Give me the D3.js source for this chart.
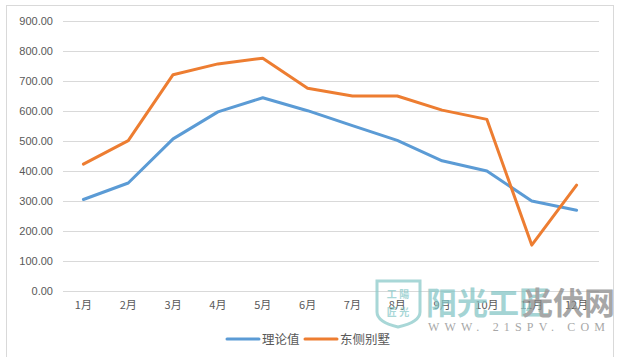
<!DOCTYPE html>
<html>
<head>
<meta charset="utf-8">
<script src="https://cdn.jsdelivr.net/npm/d3@7"></script>
<style>
  html, body { margin: 0; padding: 0; background: #fff; }
  svg { display: block; }
</style>
</head>
<body>
<svg id="chart" width="618" height="357"></svg>
<script>
const months = ["1月","2月","3月","4月","5月","6月","7月","8月","9月","10月","11月","12月"];
const theory = [305, 360, 507, 597, 644, 601, 551, 502, 434, 400, 300, 269];
const eastVilla = [423, 501, 721, 757, 776, 676, 650, 650, 603, 572, 153, 353];
const seriesNames = ["理论值", "东侧别墅"];
const yTicks = [0, 100, 200, 300, 400, 500, 600, 700, 800, 900];
const colors = ["#5B9BD5", "#ED7D31"];

const svg = d3.select("#chart");
const W = 618, H = 357;
const margin = { left: 61, right: 19, top: 21, bottom: 66 };

// chart border
svg.append("rect")
  .attr("x", 6.5).attr("y", 5.5)
  .attr("width", 607).attr("height", 360)
  .attr("fill", "#fff").attr("stroke", "#D9D9D9").attr("stroke-width", 1);

const x = d3.scaleBand().domain(months).range([margin.left, W - margin.right]);
const y = d3.scaleLinear().domain([0, 900]).range([H - margin.bottom, margin.top]);

// gridlines
svg.append("g")
  .selectAll("line")
  .data(yTicks)
  .join("line")
  .attr("x1", 63).attr("x2", W - margin.right)
  .attr("y1", d => Math.round(y(d)) + 0.5)
  .attr("y2", d => Math.round(y(d)) + 0.5)
  .attr("stroke", "#D9D9D9").attr("stroke-width", 1);

// y axis labels
const yAxis = d3.axisLeft(y).tickValues(yTicks).tickFormat(d3.format(".2f")).tickSize(0).tickPadding(0);
const gy = svg.append("g").attr("transform", "translate(53,0)").call(yAxis);
gy.select(".domain").remove();
gy.selectAll("text")
  .attr("fill", "#595959")
  .style("font-family", "'Liberation Sans', Arial, sans-serif")
  .style("font-size", "11px");

// x axis labels
const xAxis = d3.axisBottom(x).tickSize(0).tickPadding(0);
const gx = svg.append("g").attr("transform", `translate(0,${H - margin.bottom + 10})`).call(xAxis);
gx.select(".domain").remove();
gx.selectAll("text")
  .attr("fill", "#595959")
  .style("font-family", "'Noto Sans CJK SC', sans-serif")
  .style("font-size", "11px");

// watermark (behind lines? it's drawn over in original; keep it faint)
const wm = svg.append("g").attr("opacity", 0.75);
wm.append("path")
  .attr("d", "M377,281 L420,281 L420,312 Q420,322 398,327 Q377,322 377,312 Z")
  .attr("fill", "none").attr("stroke", "#8CCACA").attr("stroke-width", 3);
wm.append("text").attr("x", 398).attr("y", 298).attr("text-anchor", "middle")
  .attr("fill", "#8CCACA").style("font-family", "'Noto Sans CJK SC'").style("font-size", "10px").style("font-weight", "bold")
  .text("工 陽");
wm.append("text").attr("x", 398).attr("y", 316).attr("text-anchor", "middle")
  .attr("fill", "#8CCACA").style("font-family", "'Noto Sans CJK SC'").style("font-size", "10px").style("font-weight", "bold")
  .text("匠 光");
wm.append("text").attr("x", 426).attr("y", 314)
  .attr("fill", "#86C6C6").style("font-family", "'Noto Sans CJK SC'").style("font-size", "31px").style("font-weight", "bold")
  .text("阳光工匠");
wm.append("text").attr("x", 522).attr("y", 314)
  .attr("fill", "#8A8A8A").style("font-family", "'Noto Sans CJK SC'").style("font-size", "31px").style("font-weight", "bold")
  .text("光伏网");
wm.append("text").attr("x", 428).attr("y", 331)
  .attr("fill", "#8A8A8A").style("font-family", "'Liberation Serif', serif").style("font-size", "12px")
  .attr("textLength", 177)
  .text("WWW. 21SPV. COM");

// lines
const line = d3.line()
  .x((d, i) => x(months[i]) + x.bandwidth() / 2)
  .y(d => y(d));

[theory, eastVilla].forEach((s, i) => {
  svg.append("path")
    .datum(s)
    .attr("d", line)
    .attr("fill", "none")
    .attr("stroke", colors[i])
    .attr("stroke-width", 3)
    .attr("stroke-linejoin", "round")
    .attr("stroke-linecap", "round");
});

// legend
const legend = svg.append("g");
const legendItems = [
  { name: seriesNames[0], color: colors[0], x: 227 },
  { name: seriesNames[1], color: colors[1], x: 305 }
];
legendItems.forEach(it => {
  legend.append("line")
    .attr("x1", it.x).attr("x2", it.x + 32)
    .attr("y1", 339).attr("y2", 339)
    .attr("stroke", it.color).attr("stroke-width", 3).attr("stroke-linecap", "round");
  legend.append("text")
    .attr("x", it.x + 35).attr("y", 344)
    .attr("fill", "#595959")
    .style("font-family", "'Noto Sans CJK SC', sans-serif")
    .style("font-size", "12.5px")
    .text(it.name);
});
</script>
</body>
</html>
